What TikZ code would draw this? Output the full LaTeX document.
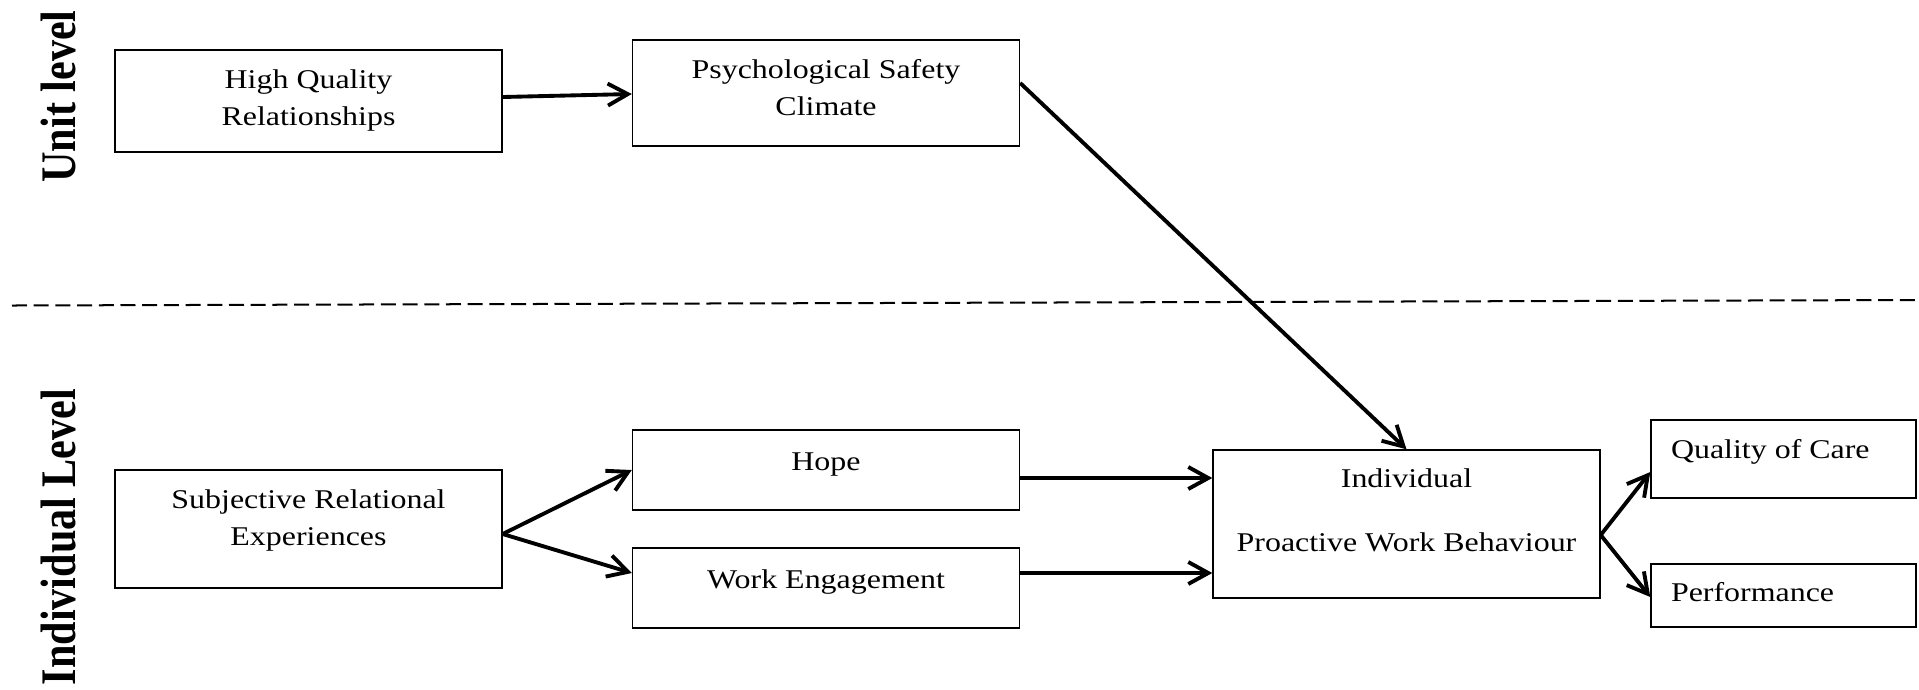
\documentclass[tikz,border=0pt]{standalone}
\usepackage{fontspec}
\usepackage{graphicx}
\setmainfont{Liberation Serif}[FakeStretch=1.18]
\newfontfamily\lvlfont{Liberation Serif}
\usetikzlibrary{arrows.meta}

\begin{document}
\begin{tikzpicture}[
  box/.style={draw, line width=0.4pt, inner sep=0pt, minimum width=3.87cm},
  txt/.style={inner sep=0pt, anchor=base, align=center, font=\fontsize{7.7}{10.5}\selectfont},
  link/.style={line width=1.1pt, -{Straight Barb[length=2mm,width=2.2mm]}},
  lvl/.style={rotate=90, anchor=base, inner sep=0pt}
]
\useasboundingbox (0,0) rectangle (19.19,-6.89);

% level labels
\node[lvl] (unitlbl) at (0.75,-0.965) {\scalebox{1}[1.18]{\lvlfont\bfseries\fontsize{12}{14}\selectfont Unit level}};
\node[lvl] (indlbl) at (0.75,-5.37) {\scalebox{1}[1.18]{\lvlfont\bfseries\fontsize{12}{14}\selectfont Individual Level}};
\draw[line width=0.57pt, dash pattern=on 1.5mm off 0.67mm] (0.12,-3.055) -- (19.19,-3.0);

% boxes
\node[box, minimum height=1.02cm] (hqr) at (3.085,-1.01) {};
\node[box, minimum height=1.06cm] (psc) at (8.26,-0.93) {};
\node[box, minimum height=1.18cm] (sre) at (3.085,-5.29) {};
\node[box, minimum height=0.80cm] (hope) at (8.26,-4.70) {};
\node[box, minimum height=0.80cm] (we) at (8.26,-5.88) {};
\node[box, minimum height=1.48cm] (ipwb) at (14.065,-5.24) {};
\node[box, minimum width=2.65cm, minimum height=0.78cm] (qoc) at (17.835,-4.59) {};
\node[box, minimum width=2.65cm, minimum height=0.63cm] (perf) at (17.835,-5.955) {};

% texts
\node[txt] (hqrt) at ([yshift=-.24cm]hqr.center) {High Quality\\Relationships};
\node[txt] (psct) at ([yshift=-.22cm]psc.center) {Psychological Safety\\Climate};
\node[txt] (sret) at ([yshift=-.16cm]sre.center) {Subjective Relational\\Experiences};
\node[txt] (hopet) at (hope.center) {Hope};
\node[txt] (wet) at (we.center) {Work Engagement};
\node[txt] (ipwbt) at ([yshift=-.27cm]ipwb.center) {Individual\\[7.7pt]Proactive Work Behaviour};
\node[txt, anchor=base west] (qoct) at ([xshift=.2cm, yshift=.01cm]qoc.west) {Quality of Care};
\node[txt, anchor=base west] (perft) at ([xshift=.2cm, yshift=-.055cm]perf.west) {Performance};

% arrows
\draw[link] ([yshift=.04cm]hqr.east) -- ([yshift=-.01cm]psc.west);
\draw[link] ([yshift=.1cm]psc.east) -- (ipwb.north);
\draw[link] ([yshift=-.05cm]sre.east) -- (hope.west);
\draw[link] ([yshift=-.05cm]sre.east) -- ([yshift=.15cm]we.west);
\draw[link] ([yshift=-.08cm]hope.east) -- ([yshift=-.08cm]hope.east -| ipwb.west);
\draw[link] ([yshift=.15cm]we.east) -- ([yshift=.15cm]we.east -| ipwb.west);
\draw[link] ([yshift=-.11cm]ipwb.east) -- ([yshift=-.13cm]qoc.west);
\draw[link] ([yshift=-.11cm]ipwb.east) -- ([yshift=-.015cm]perf.west);
\end{tikzpicture}
\end{document}
